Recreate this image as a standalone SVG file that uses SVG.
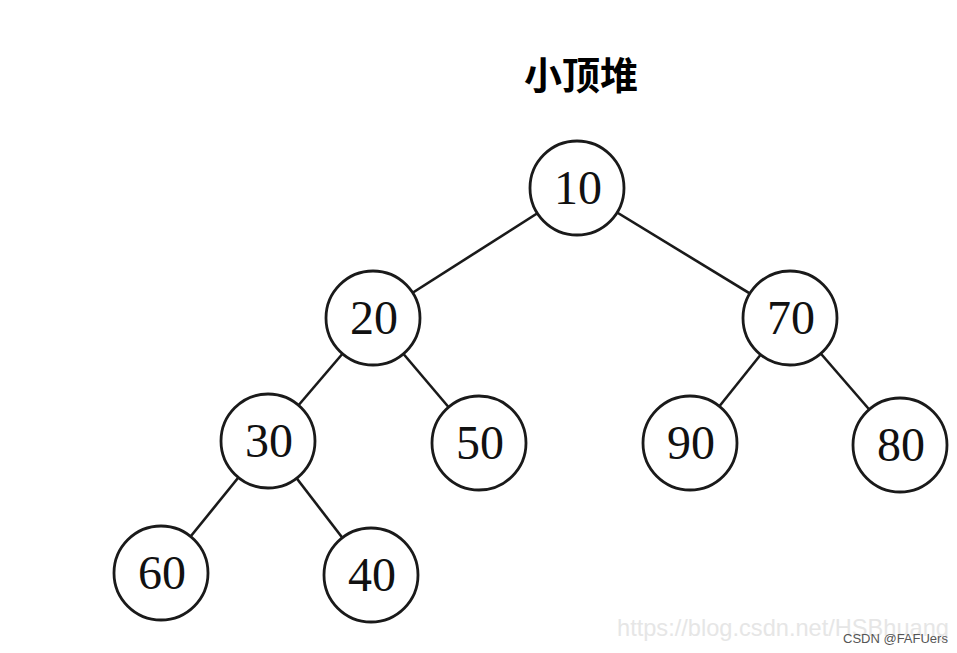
<svg xmlns="http://www.w3.org/2000/svg" width="957" height="653" viewBox="0 0 957 653">
<style>
.n circle{fill:#fff;stroke:#1a1a1a;stroke-width:2.8}
.n text{font-family:"Liberation Serif",serif;font-size:48px;fill:#111;text-anchor:middle}
#edges line{stroke:#1a1a1a;stroke-width:2.6}
</style>
<rect width="957" height="653" fill="#fff"/>
<text x="581" y="89" font-family="'Noto Sans CJK SC',sans-serif" font-weight="bold" font-size="38" text-anchor="middle" fill="#000">小顶堆</text>
<g id="edges">
<line x1="577" y1="188" x2="373" y2="318"/>
<line x1="577" y1="188" x2="790" y2="318"/>
<line x1="373" y1="318" x2="268" y2="441"/>
<line x1="373" y1="318" x2="479" y2="443"/>
<line x1="790" y1="318" x2="690" y2="443"/>
<line x1="790" y1="318" x2="900" y2="445"/>
<line x1="268" y1="441" x2="161" y2="573"/>
<line x1="268" y1="441" x2="371" y2="575"/>
</g>
<g id="n10" class="n"><circle cx="577" cy="188" r="47"/><text x="578" y="204">10</text></g>
<g id="n20" class="n"><circle cx="373" cy="318" r="47"/><text x="374" y="334">20</text></g>
<g id="n70" class="n"><circle cx="790" cy="318" r="47"/><text x="791" y="334">70</text></g>
<g id="n30" class="n"><circle cx="268" cy="441" r="47"/><text x="269" y="457">30</text></g>
<g id="n50" class="n"><circle cx="479" cy="443" r="47"/><text x="480" y="459">50</text></g>
<g id="n90" class="n"><circle cx="690" cy="443" r="47"/><text x="691" y="459">90</text></g>
<g id="n80" class="n"><circle cx="900" cy="445" r="47"/><text x="901" y="461">80</text></g>
<g id="n60" class="n"><circle cx="161" cy="573" r="47"/><text x="162" y="589">60</text></g>
<g id="n40" class="n"><circle cx="371" cy="575" r="47"/><text x="372" y="591">40</text></g>
<text x="617" y="636" font-family="'Liberation Sans',sans-serif" font-size="24" textLength="332" lengthAdjust="spacingAndGlyphs" fill="#e6e6e6">https://blog.csdn.net/HSBhuang</text>
<text x="843" y="643" font-family="'Liberation Sans',sans-serif" font-size="13" fill="#555">CSDN @FAFUers</text>
</svg>
